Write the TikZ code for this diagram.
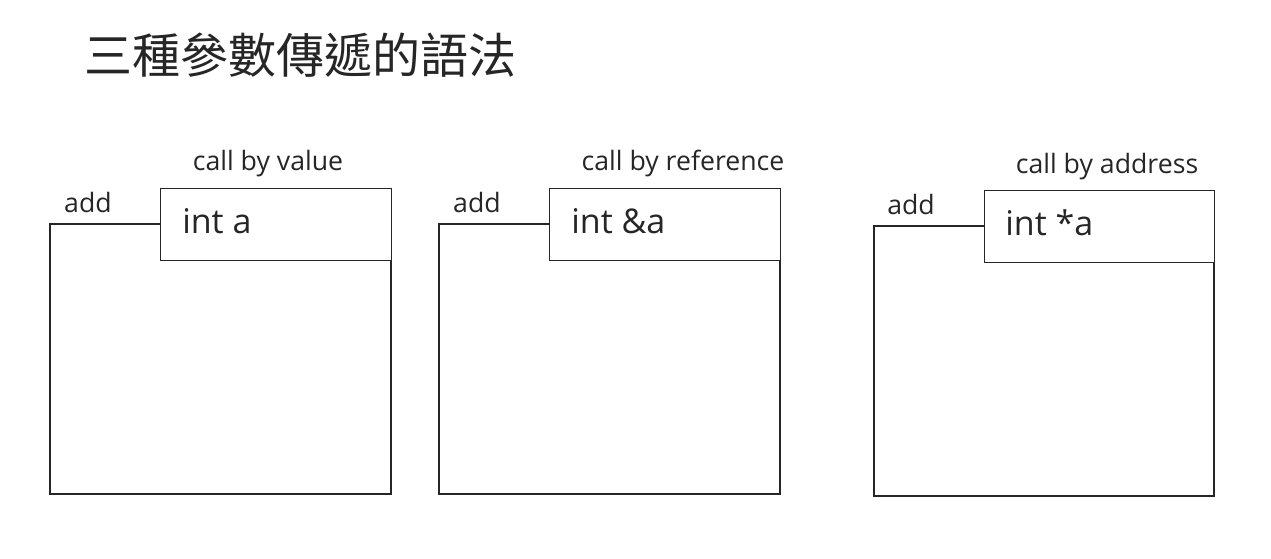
\documentclass[tikz,border=0pt]{standalone}
\usepackage{fontspec}
\setmainfont{Open Sans}
\newfontfamily\cjkfont{Noto Sans CJK TC}
\begin{document}
\begin{tikzpicture}[x=0.75pt,y=-0.75pt,
  frame/.style={draw=black!85,line width=0.8pt},
  lbl/.style={inner sep=0pt,font=\fontsize{20}{22}\selectfont,text=black!85},
  code/.style={inner sep=0pt,anchor=west,font=\fontsize{25.5}{30}\selectfont,text=black!85}]
\useasboundingbox (0,0) rectangle (1271,559);
\node[inner sep=0pt,anchor=west,font=\cjkfont\fontsize{36}{40}\selectfont,text=black!85] (title) at (84,55) {三種參數傳遞的語法};
% box 1
\draw[frame] (160,224) -- (50,224) -- (50,494) -- (391,494) -- (391,260);
\node[frame,anchor=north west,minimum width=231*0.75pt,minimum height=72*0.75pt,inner sep=0pt] (p1) at (160,188) {};
\node[code] (c1) at (182,221) {int a};
\node[lbl] (a1) at (88,203) {add};
\node[lbl] (l1) at (268,164) {call by value};
% box 2
\draw[frame] (549,224) -- (439,224) -- (439,494) -- (780,494) -- (780,260);
\node[frame,anchor=north west,minimum width=231*0.75pt,minimum height=72*0.75pt,inner sep=0pt] (p2) at (549,188) {};
\node[code] (c2) at (571,221) {int \&a};
\node[lbl] (a2) at (477,203) {add};
\node[lbl] (l2) at (683,164) {call by reference};
% box 3
\draw[frame] (984,226) -- (874,226) -- (874,496) -- (1214,496) -- (1214,262);
\node[frame,anchor=north west,minimum width=230*0.75pt,minimum height=72*0.75pt,inner sep=0pt] (p3) at (984,190) {};
\node[code] (c3) at (1005,223) {int *a};
\node[lbl] (a3) at (911,205) {add};
\node[lbl] (l3) at (1107,167) {call by address};
\end{tikzpicture}
\end{document}
